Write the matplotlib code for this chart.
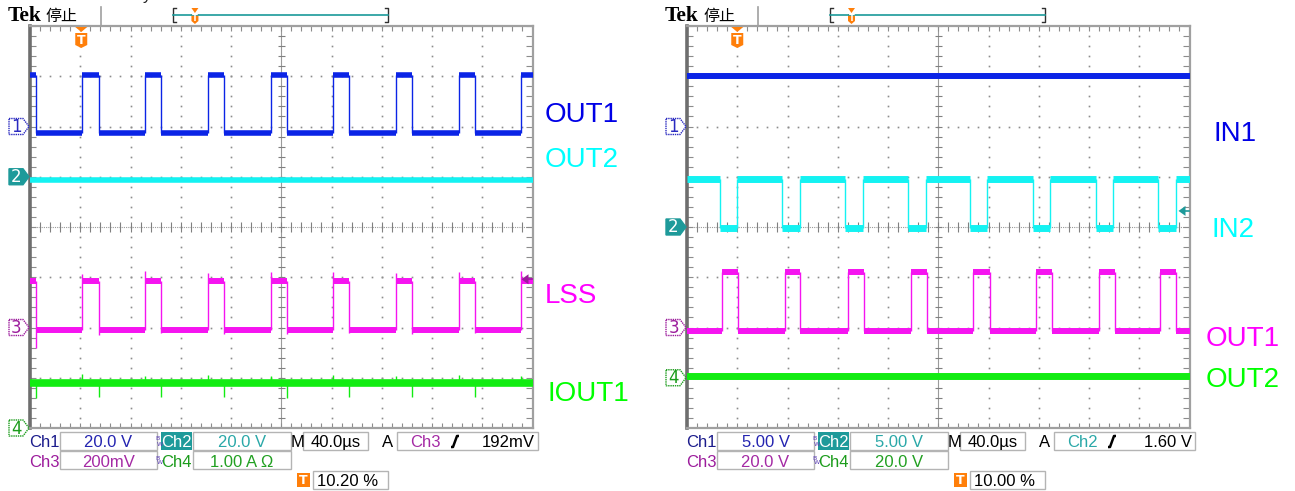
import numpy as np
import matplotlib
matplotlib.use('Agg')
from matplotlib import pyplot as plt
from matplotlib.patches import Polygon, Rectangle

W, H = 1295, 491
DIV = 50.25          # pixels per division on the screen grid
BOTTOM = 428         # pixel row of the bottom graticule edge

# ---------------- left screen: OUT1 / OUT2 / LSS / IOUT1 ----------------
# edge times in divisions (40 us/div)
L_RISE = [1.03, 2.29, 3.54, 4.79, 6.02, 7.28, 8.53, 9.77]
L_FALL = [0.12, 1.37, 2.61, 3.86, 5.11, 6.35, 7.60, 8.85]
L_OUT1 = [-2.4, 20.6]          # V, 20 V/div
L_OUT2 = -1.2                  # V, 20 V/div
L_LSS = [-0.010, 0.186]        # V, 200 mV/div
L_LSS_PEAK = [0.212, 0.225, 0.215, 0.22, 0.222, 0.218, 0.22, 0.225]
L_LSS_DIP = [-0.082, -0.03, -0.022, -0.025, -0.025, -0.02, -0.025, -0.022]
L_IOUT1 = 0.9                  # A, 1 A/div
L_IOUT1_DIP = [0.60, 0.62, 0.62, 0.61, 0.60, 0.62, 0.61, 0.62]
L_IOUT1_PEAK = [1.07, 1.03, 1.05, 1.04, 1.05, 1.04, 1.05, 1.03]
L_GND = [6, 5, 2, 0]
L_VDIV = [20.0, 20.0, 0.2, 1.0]
L_SCALE = ['20.0 V', '20.0 V', '200mV', '1.00 A Ω']
L_TRIG = ['Ch3', 2, 0.192, '192mV']
L_POS = 10.20
L_NAMES = ['OUT1', 'OUT2', 'LSS', 'IOUT1']

# ---------------- right screen: IN1 / IN2 / OUT1 / OUT2 ----------------
R_IN2_FALL = [0.66, 1.90, 3.14, 4.40, 5.64, 6.89, 8.14, 9.38]
R_IN2_RISE = [1.00, 2.25, 3.50, 4.75, 5.98, 7.23, 8.48, 9.73]
R_OUT1_RISE = [0.70, 1.95, 3.20, 4.45, 5.70, 6.94, 8.19, 9.42]
R_OUT1_FALL = [1.02, 2.25, 3.52, 4.77, 6.02, 7.26, 8.51, 9.74]
R_IN1 = 5.0                    # V, 5 V/div
R_IN2 = [-0.1, 4.8]            # V, 5 V/div
R_OUT1 = [-1.4, 22.0]          # V, 20 V/div
R_OUT2 = 0.8                   # V, 20 V/div
R_GND = [6, 4, 2, 1]
R_VDIV = [5.0, 5.0, 20.0, 20.0]
R_SCALE = ['5.00 V', '5.00 V', '20.0 V', '20.0 V']
R_TRIG = ['Ch2', 1, 1.60, '1.60 V']
R_POS = 10.00
R_NAMES = ['IN1', 'IN2', 'OUT1', 'OUT2']

TIMEBASE = '40.0µs'

TRACE = ['#0b24e6', '#14f2f2', '#f514f0', '#12ec12']
LABEL = ['#0000e6', '#00ffff', '#ff00ff', '#00ff00']
READ = ['#1c1c8c', '#1e9a9a', '#9c1c9c', '#1c9c1c']
VALUE = ['#2424b0', '#2aa8a8', '#a42aa4', '#22a022']
ORANGE = '#ff7f0a'
GRID = '#8c8c8c'

fig = plt.figure(figsize=(W / 100, H / 100), dpi=100)


def steps(rise, fall, lo, hi):
    edges = sorted([(t, hi) for t in rise] + [(t, lo) for t in fall])
    level = lo if edges[0][1] == hi else hi
    x0s, x1s, ys = [], [], []
    t = 0.0
    for te, nxt in edges:
        x0s.append(t)
        x1s.append(te)
        ys.append(level)
        t, level = te, nxt
    x0s.append(t)
    x1s.append(10.0)
    ys.append(level)
    return x0s, x1s, ys


def pulse(ax, rise, fall, lo, hi, gnd, vdiv, color, band):
    lo_d, hi_d = gnd + lo / vdiv, gnd + hi / vdiv
    x0s, x1s, ys = steps(rise, fall, lo_d, hi_d)
    ax.hlines(ys, x0s, x1s, color=color, lw=band, zorder=5)
    ax.vlines(rise + fall, lo_d, hi_d, color=color, lw=1.0, zorder=5)


def flat(ax, v, gnd, vdiv, color, band):
    ax.axhline(gnd + v / vdiv, color=color, lw=band, zorder=5)


def screen(ox):
    ax = fig.add_axes([ox / W, (H - BOTTOM) / H, 10 * DIV / W, 8 * DIV / H])
    ax.set_xlim(0, 10)
    ax.set_ylim(0, 8)
    ax.set_xticks([])
    ax.set_yticks([])
    fx = np.arange(0, 10.001, 0.2)
    fy = np.arange(0, 8.001, 0.2)
    for i in range(1, 10):
        if i != 5:
            ax.plot(np.full_like(fy, i), fy, ls='none', marker='s', ms=1.2,
                    mew=0, color=GRID)
    for j in range(1, 8):
        if j != 4:
            ax.plot(fx, np.full_like(fx, j), ls='none', marker='s', ms=1.2,
                    mew=0, color=GRID)
    ax.axvline(5, color='#9a9a9a', lw=0.8)
    ax.axhline(4, color='#9a9a9a', lw=0.8, ls=(0, (1, 1)))
    ax.hlines(fy, 4.93, 5.07, color='#808080', lw=0.8)
    ax.vlines(fx, 3.91, 4.09, color='#808080', lw=0.8)
    ax.vlines(fx, 0, 0.09, color=GRID, lw=0.8)
    ax.vlines(fx, 7.91, 8, color=GRID, lw=0.8)
    ax.hlines(fy, 0, 0.12, color=GRID, lw=0.8)
    ax.hlines(fy, 9.88, 10, color=GRID, lw=0.8)
    for s in ['top', 'right', 'bottom']:
        ax.spines[s].set(color='#a0a0a0', lw=1.6)
    ax.spines['left'].set(color='#6e6e6e', lw=2.6)
    return ax


# ---- traces
axl = screen(30)
pulse(axl, L_RISE, L_FALL, L_OUT1[0], L_OUT1[1], L_GND[0], L_VDIV[0], TRACE[0], 4.0)
flat(axl, L_OUT2, L_GND[1], L_VDIV[1], TRACE[1], 4.0)
pulse(axl, L_RISE, L_FALL, L_LSS[0], L_LSS[1], L_GND[2], L_VDIV[2], TRACE[2], 4.3)
axl.vlines(L_RISE, L_GND[2] + L_LSS[1] / L_VDIV[2],
           [L_GND[2] + p / L_VDIV[2] for p in L_LSS_PEAK], color=TRACE[2], lw=1.0, zorder=5)
axl.vlines(L_FALL, [L_GND[2] + d / L_VDIV[2] for d in L_LSS_DIP],
           L_GND[2] + L_LSS[0] / L_VDIV[2], color=TRACE[2], lw=1.0, zorder=5)
flat(axl, L_IOUT1, L_GND[3], L_VDIV[3], TRACE[3], 5.5)
axl.vlines(L_FALL, [L_GND[3] + d / L_VDIV[3] for d in L_IOUT1_DIP],
           L_GND[3] + L_IOUT1 / L_VDIV[3], color=TRACE[3], lw=1.0, zorder=5)
axl.vlines(L_RISE, L_GND[3] + L_IOUT1 / L_VDIV[3],
           [L_GND[3] + p / L_VDIV[3] for p in L_IOUT1_PEAK], color=TRACE[3], lw=1.0, zorder=5)

axr = screen(687)
flat(axr, R_IN1, R_GND[0], R_VDIV[0], TRACE[0], 4.3)
pulse(axr, R_IN2_RISE, R_IN2_FALL, R_IN2[0], R_IN2[1], R_GND[1], R_VDIV[1], TRACE[1], 5.0)
pulse(axr, R_OUT1_RISE, R_OUT1_FALL, R_OUT1[0], R_OUT1[1], R_GND[2], R_VDIV[2], TRACE[2], 4.3)
flat(axr, R_OUT2, R_GND[3], R_VDIV[3], TRACE[3], 5.0)

# ---- overlay in pixel coordinates
ov = fig.add_axes([0, 0, 1, 1], facecolor='none')
ov.set_xlim(0, W)
ov.set_ylim(H, 0)
ov.axis('off')


def t_icon(cx, top, w, h, tri, fs):
    if tri:
        ov.add_patch(Polygon([(cx - w / 2, top), (cx + w / 2, top), (cx, top + 5)],
                             closed=True, fc=ORANGE, ec='none'))
        top += 6
    ov.add_patch(Polygon([(cx - w / 2, top), (cx + w / 2, top), (cx + w / 2, top + h - 3),
                          (cx, top + h), (cx - w / 2, top + h - 3)],
                         closed=True, fc=ORANGE, ec='none'))
    ov.text(cx, top + h / 2 - 0.5, 'T', ha='center', va='center', color='white',
            fontsize=fs, fontweight='bold', family='DejaVu Sans')


def marker(x, y, num, color, filled):
    pts = [(x, y - 8), (x + 14, y - 8), (x + 20, y), (x + 14, y + 8), (x, y + 8)]
    ov.add_patch(Polygon(pts, closed=True, fc=color if filled else 'white', ec=color,
                         lw=1.0, ls='-' if filled else (0, (1, 0.6))))
    ov.text(x + 7.5, y + 0.5, num, ha='center', va='center', fontsize=12,
            color='white' if filled else color, family='DejaVu Sans')


def box(x0, y0, x1, y1):
    ov.add_patch(Rectangle((x0, y0), x1 - x0, y1 - y0, fc='white', ec='#b4b4b4', lw=1.0))


def decorate(ox, gnds, vdivs, scales, trig, pos, names, name_pos):
    hx = ox - 30
    # header
    ov.text(8 + hx, 21, 'Tek', fontsize=15.5, fontweight='bold', family='Liberation Serif',
            va='baseline', color='black')
    ov.text(46 + hx, 21, '停止', fontsize=11.5, family=['Noto Sans CJK SC'],
            va='baseline', color='black')
    ov.plot([101 + hx, 101 + hx], [7, 25], color='#a0a0a0', lw=1.2)
    bx0, bx1 = 173 + hx, 388 + hx
    ov.plot([bx0 + 3, bx0, bx0, bx0 + 3], [8, 8, 22, 22], color='#303030', lw=1.0)
    ov.plot([bx1 - 3, bx1, bx1, bx1 - 3], [8, 8, 22, 22], color='#303030', lw=1.0)
    ov.plot([bx0, bx1], [15, 15], color='#1a9a9a', lw=1.2)
    t_icon(bx0 + pos / 100 * (bx1 - bx0), 8, 7, 10, True, 6)
    # trigger position marker on the graticule
    t_icon(ox + pos / 10 * DIV, 27, 12, 15, True, 9)
    # channel ground markers
    for k in range(4):
        gy = BOTTOM - gnds[k] * DIV
        marker(ox - 21, gy, str(k + 1), READ[k] if k != 0 else '#2a2ac0', k == 1)
    # trigger level arrow
    ch = trig[1]
    ty = BOTTOM - (gnds[ch] + trig[2] / vdivs[ch]) * DIV
    xr = ox + 10 * DIV
    acol = READ[ch]
    ov.add_patch(Polygon([(xr - 11, ty), (xr - 4, ty - 5), (xr - 4, ty + 5)], closed=True,
                         fc=acol, ec='none'))
    ov.plot([xr - 5, xr - 1], [ty, ty], color=acol, lw=1.2)
    # labels on the right
    for k in range(4):
        ov.text(name_pos[k][0], name_pos[k][1], names[k], fontsize=20, color=LABEL[k],
                family='Liberation Sans', va='baseline')
    # readout
    f = dict(fontsize=12, family='Liberation Sans', va='baseline')
    r1, r2, r3 = (432, 450), (451, 469), (471, 489)
    b1, b2 = (60 + hx, 157 + hx), (193 + hx, 291 + hx)
    for (x0, x1) in (b1, b2):
        box(x0, r1[0], x1, r1[1])
        box(x0, r2[0], x1, r2[1])
    ov.add_patch(Rectangle((161 + hx, r1[0]), 31, r1[1] - r1[0], fc='#1e9a9a', ec='none'))
    ov.text(29 + hx, 447, 'Ch1', color=READ[0], **f)
    ov.text(176.5 + hx, 447, 'Ch2', color='white', ha='center', **f)
    ov.text(29 + hx, 467, 'Ch3', color=READ[2], **f)
    ov.text(161 + hx, 467, 'Ch4', color=READ[3], **f)
    ov.text((b1[0] + b1[1]) / 2, 447, scales[0], color=VALUE[0], ha='center', **f)
    ov.text((b2[0] + b2[1]) / 2, 447, scales[1], color=VALUE[1], ha='center', **f)
    ov.text((b1[0] + b1[1]) / 2, 467, scales[2], color=VALUE[2], ha='center', **f)
    ov.text((b2[0] + b2[1]) / 2, 467, scales[3], color=VALUE[3], ha='center', **f)
    for yy in (441, 460):
        ov.text(157.5 + hx, yy - 2, 'B', fontsize=4.5, color='#5a3cb4', family='DejaVu Sans',
                ha='center', va='center')
        ov.text(159.5 + hx, yy + 3, 'W', fontsize=4.5, color='#5a3cb4', family='DejaVu Sans',
                ha='center', va='center')
    ov.text(297.5 + hx, 447, 'M', color='black', ha='center', **f)
    box(303 + hx, r1[0], 368 + hx, r1[1])
    ov.text(335.5 + hx, 447, TIMEBASE, color='black', ha='center', **f)
    ov.text(388 + hx, 447, 'A', color='black', ha='center', **f)
    box(397 + hx, r1[0], 538 + hx, r1[1])
    ov.text(410 + hx, 447, trig[0], color=VALUE[ch], **f)
    sx = 455 + hx
    ov.plot([sx - 4, sx - 2, sx + 2, sx + 4], [447, 447, 436, 436], color='black', lw=1.8,
            solid_capstyle='butt')
    ov.text(535 + hx, 447, trig[3], color='black', ha='right', **f)
    ov.add_patch(Rectangle((297 + hx, 473), 13, 14, fc=ORANGE, ec='none'))
    ov.text(303.5 + hx, 480.5, 'T', color='white', fontsize=9, fontweight='bold',
            family='DejaVu Sans', ha='center', va='center')
    box(313 + hx, r3[0], 388 + hx, r3[1])
    ov.text(317 + hx, 486, '%.2f %%' % pos, color='black', **f)


decorate(30, L_GND, L_VDIV, L_SCALE, L_TRIG, L_POS, L_NAMES,
         [(545, 122), (545, 167), (545, 303), (547, 401)])
decorate(687, R_GND, R_VDIV, R_SCALE, R_TRIG, R_POS, R_NAMES,
         [(1213, 141), (1211, 237), (1206, 345.5), (1206, 387)])
# descender of a cut-off glyph at the very top edge of the left screenshot
ov.text(143, 0, 'y', fontsize=12, family='Liberation Sans', va='baseline', color='#222222')

fig.savefig('out.png', dpi=100)
